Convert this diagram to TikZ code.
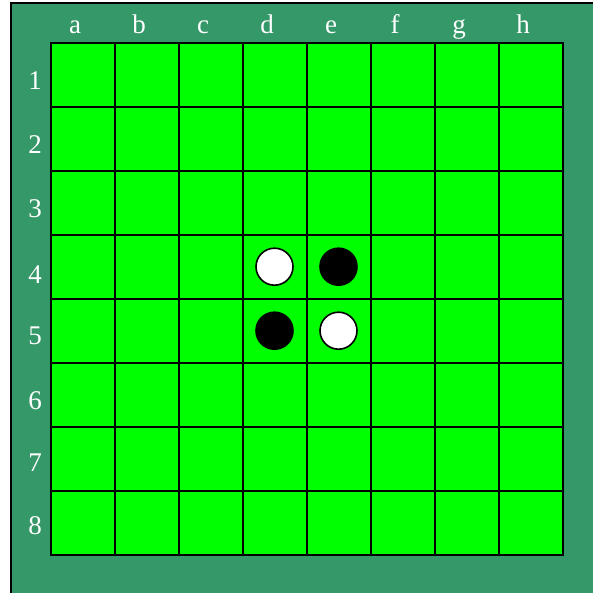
\documentclass[tikz,border=0pt]{standalone}
\usepackage{fontspec}
\setmainfont{Liberation Serif}
\definecolor{tablegreen}{RGB}{52,152,104}
\definecolor{feltgreen}{RGB}{0,255,0}
\tikzset{
  square/.style={draw=black, line width=2pt, fill=feltgreen, minimum size=64pt, inner sep=0pt},
  disc/.style={circle, draw=black, line width=1.6pt, minimum size=37pt, inner sep=0pt},
  coord/.style={text=white, font=\fontsize{27}{32}\selectfont, inner sep=0pt, anchor=base}
}
\begin{document}
\begin{tikzpicture}[x=1pt, y=-1pt]
\useasboundingbox (0,0) rectangle (592,593);

% Table
\draw[line width=1.5pt, fill=tablegreen] (11,3) rectangle (600,600);

% Squares: centre of a1 at (82.5, 74.7), 64 px apart
\def\xo{82.5}
\def\yo{74.7}
\foreach \col [count=\i from 0] in {a,b,c,d,e,f,g,h} {
  \foreach \row [evaluate=\row as \j using int(\row-1)] in {1,...,8} {
    \node[square] (sq-\col-\row) at ({\xo+64*\i}, {\yo+64*\j}) {};
  }
}

% File letters
\foreach \col [count=\i from 0] in {a,b,c,d,e,f,g,h} {
  \node[coord] (file-\col) at ({75+64*\i}, 34) {\col};
}

% Rank numbers (baselines read off the board)
\foreach \row/\yb in {1/90, 2/154, 3/218, 4/283, 5/344, 6/409, 7/471, 8/534} {
  \node[coord] (rank-\row) at (35, \yb) {\row};
}

% Starting discs
\node[disc, fill=white] (disc-d4) at (sq-d-4) {};
\node[disc, fill=black] (disc-e4) at (sq-e-4) {};
\node[disc, fill=black] (disc-d5) at (sq-d-5) {};
\node[disc, fill=white] (disc-e5) at (sq-e-5) {};

\end{tikzpicture}
\end{document}
